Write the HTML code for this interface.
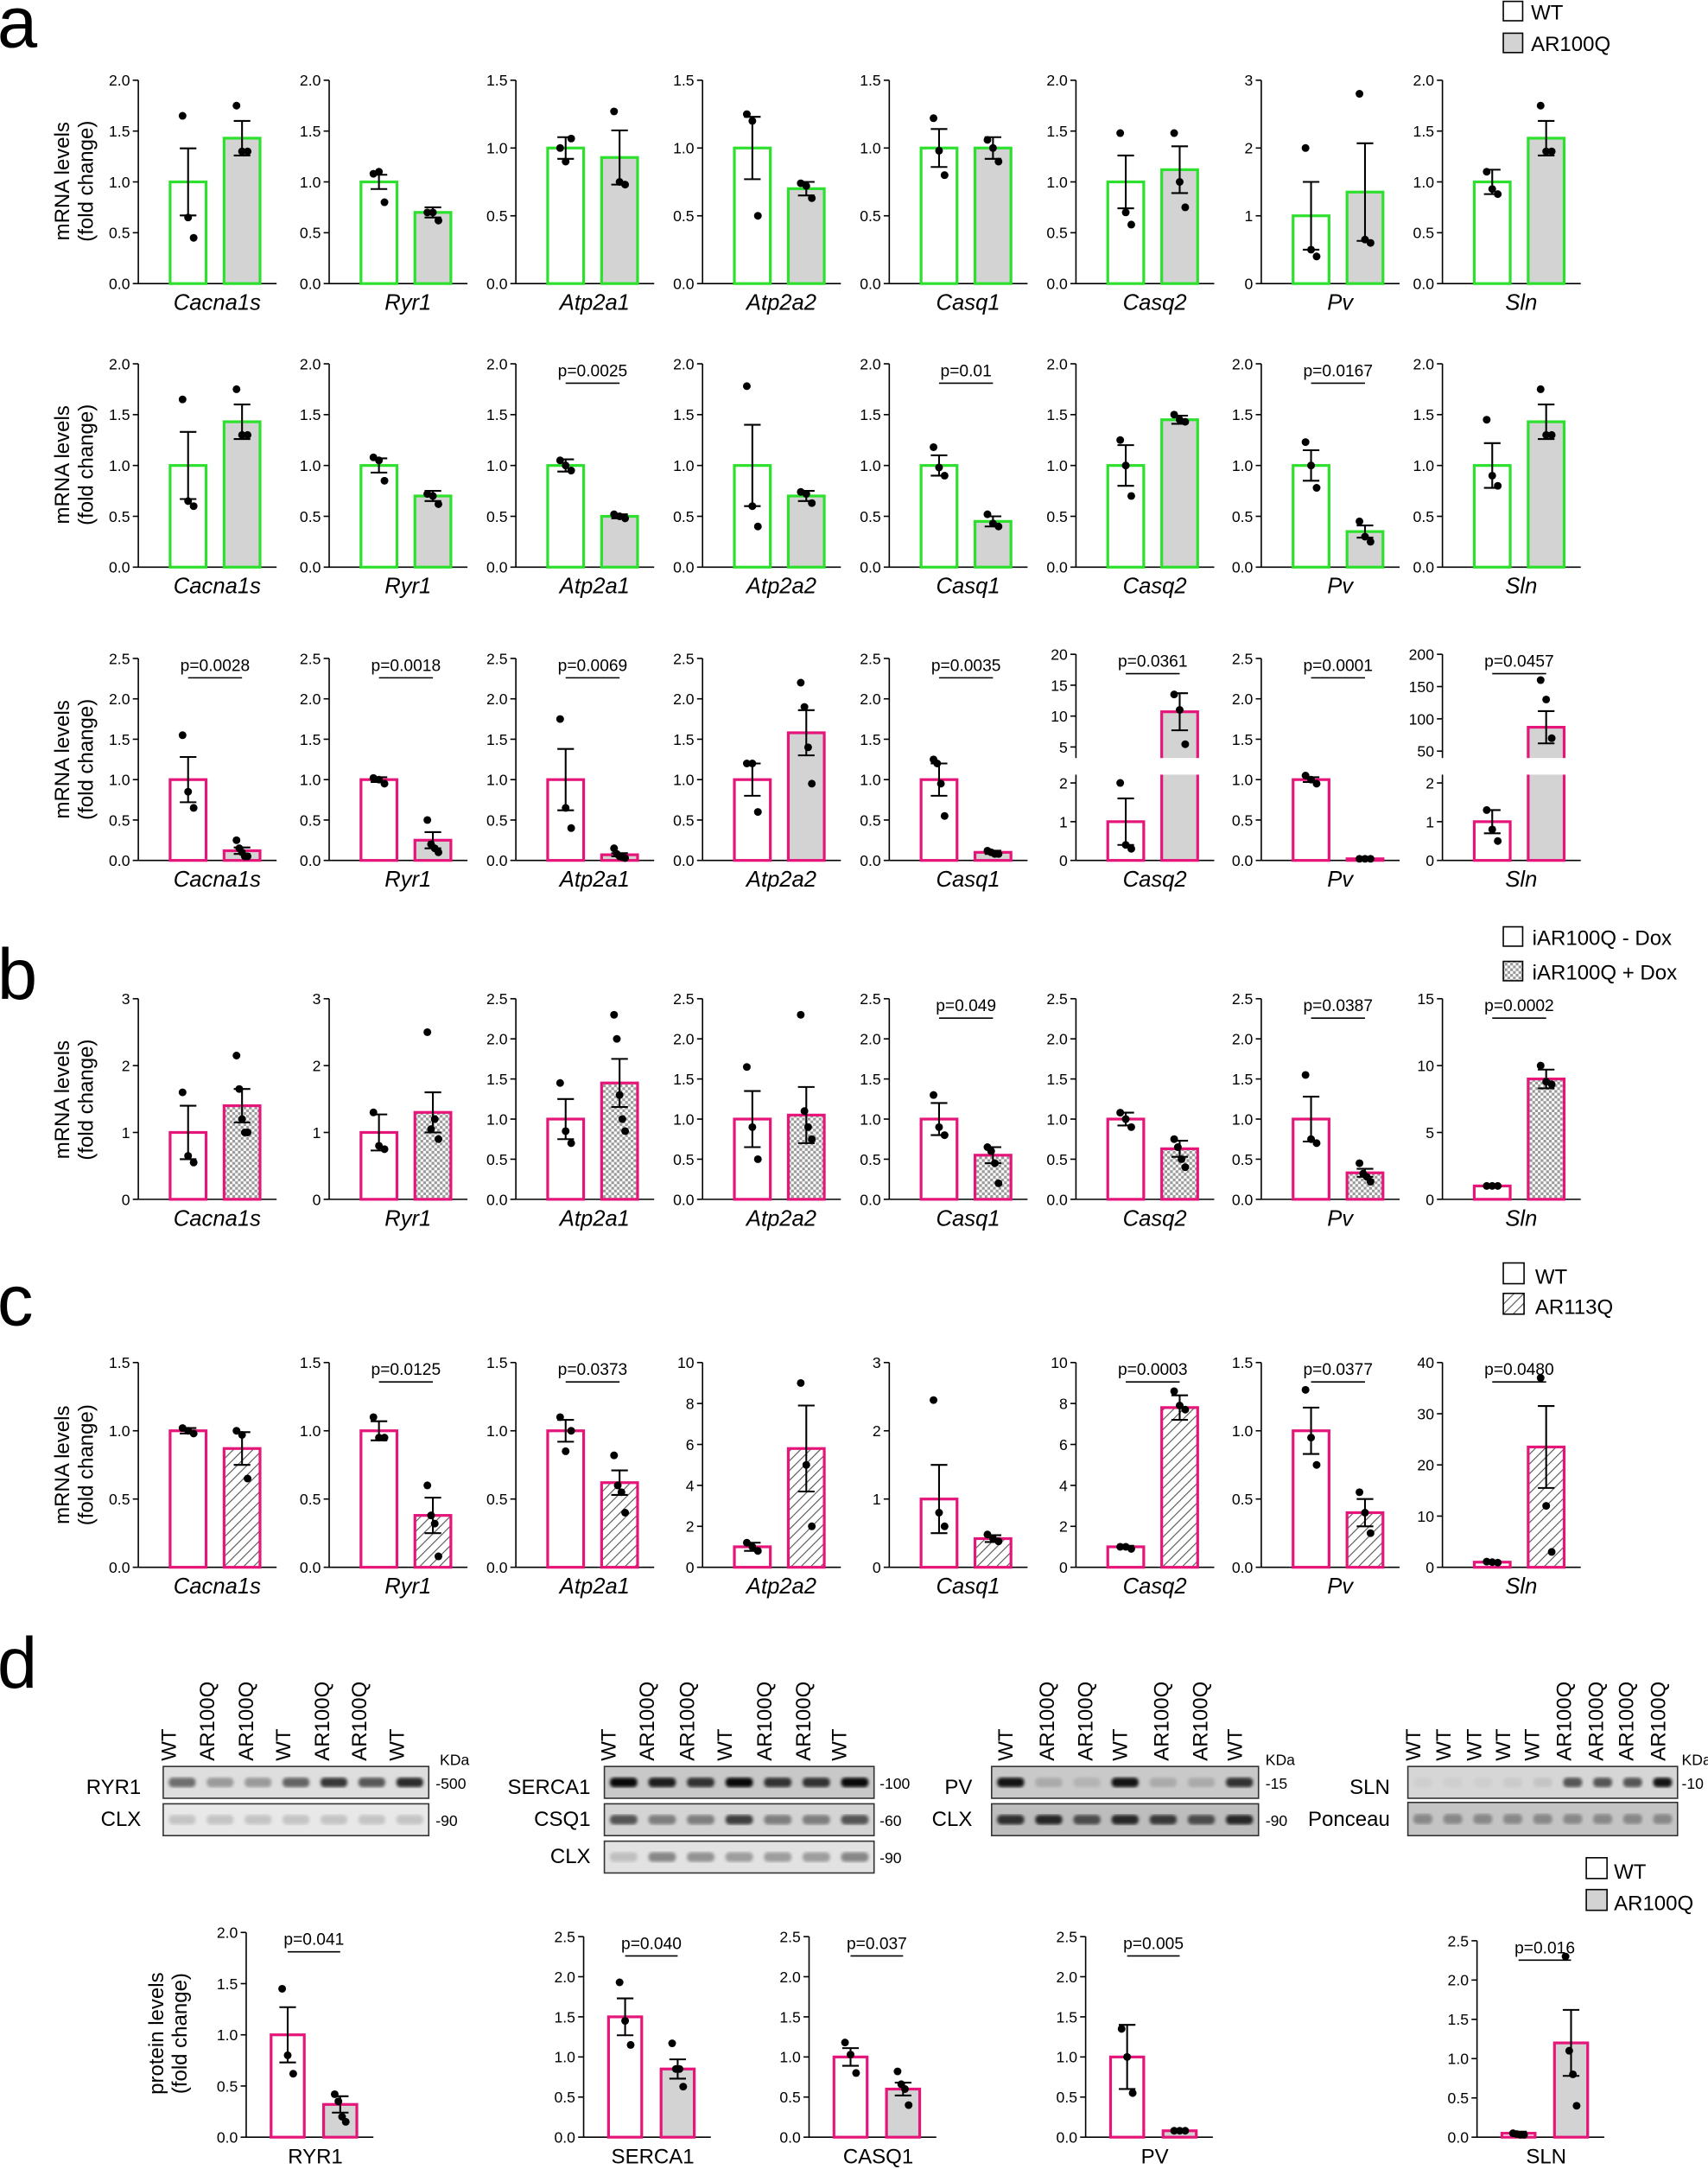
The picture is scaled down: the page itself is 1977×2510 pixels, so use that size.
<!DOCTYPE html>
<html><head><meta charset="utf-8">
<style>
html,body{margin:0;padding:0;background:#fff;}
svg{display:block;font-family:"Liberation Sans",Arial,sans-serif;}
</style></head>
<body>
<svg id="s" width="1977" height="2510" viewBox="0 0 1235 1568" xmlns="http://www.w3.org/2000/svg">
<defs>
<pattern id="chk" width="4" height="4" patternUnits="userSpaceOnUse"><rect width="4" height="4" fill="#fff"/><rect width="2" height="2" fill="#999"/><rect x="2" y="2" width="2" height="2" fill="#999"/></pattern>
<pattern id="hat" width="5" height="5" patternUnits="userSpaceOnUse" patternTransform="rotate(45)"><rect width="5" height="5" fill="#fff"/><line x1="0" y1="0" x2="0" y2="5" stroke="#555" stroke-width="1.4"/></pattern>
<filter id="bl"><feGaussianBlur stdDeviation="1.2"/></filter>
</defs>
<g font-size="52" font-weight="normal">
<text x="-2" y="34">a</text><text x="-2" y="722">b</text><text x="-2" y="958">c</text><text x="-2" y="1220">d</text>
</g>
<g font-size="15">
<rect x="1087" y="1" width="14" height="14" fill="#fff" stroke="#000"/><text x="1107" y="14">WT</text>
<rect x="1087" y="24" width="14" height="14" fill="#d3d3d3" stroke="#000"/><text x="1107" y="37">AR100Q</text>
<rect x="1087" y="670" width="14" height="14" fill="#fff" stroke="#000"/><text x="1108" y="683">iAR100Q - Dox</text>
<rect x="1087" y="695" width="14" height="14" fill="url(#chk)" stroke="#000"/><text x="1108" y="708">iAR100Q + Dox</text>
<rect x="1087" y="913" width="15" height="15" fill="#fff" stroke="#000"/><text x="1110" y="928">WT</text>
<rect x="1087" y="935" width="15" height="15" fill="url(#hat)" stroke="#000"/><text x="1110" y="950">AR113Q</text>
<rect x="1147" y="1343" width="15" height="15" fill="#fff" stroke="#000"/><text x="1167" y="1358">WT</text>
<rect x="1147" y="1366" width="15" height="15" fill="#d3d3d3" stroke="#000"/><text x="1167" y="1381">AR100Q</text>
</g>
<g id="g"></g>
</svg>
<script>
const NS="http://www.w3.org/2000/svg",G=document.getElementById('g');
function el(t,a,txt){const e=document.createElementNS(NS,t);for(const k in a)e.setAttribute(k,a[k]);if(txt!==undefined)e.textContent=txt;G.appendChild(e);return e;}
function ln(x1,y1,x2,y2,w,c){el('line',{x1,y1,x2,y2,stroke:c||'#000','stroke-width':w||1});}
function tl(max){let s=max<=2.5?0.5:max==3?1:max==10?2:max==15?5:max==40?10:max/4;const r=[];for(let v=0;v<=max+1e-9;v+=s)r.push(+v.toFixed(2));return r;}
const GR='#2ee02e',MG='#e5157a';
function panel(x,top,zero,max,bars,col,gene,pv,o){o=o||{};
 const map=o.map||(v=>zero-(v/max)*(zero-top));
 const ticks=o.ticks||tl(max);const dec=o.dec!==undefined?o.dec:(max<=2.5?1:0);
 const off=o.off||[23,62],bw=o.bw||26;
 ln(x,o.atop||top,x,zero);
 ticks.forEach(t=>{const y=map(t);ln(x-4,y,x,y);el('text',{x:x-6,y:y+4,'text-anchor':'end','font-size':11},t.toFixed(dec));});
 ln(x,zero,x+(o.bl||100),zero);
 bars.forEach((b,i)=>{el('rect',{x:x+off[i],y:map(b[0]),width:bw,height:zero-map(b[0]),fill:b[3]||'#fff',stroke:col,'stroke-width':2});});
 if(o.brk){el('rect',{x:x-6,y:o.brk[0],width:106,height:o.brk[1]-o.brk[0],fill:'#fff'});}
 bars.forEach((b,i)=>{const cx=x+off[i]+bw/2;const lo=map(Math.max(0,b[0]-b[1])),hi=map(b[0]+b[1]);
  if(b[1]>0){ln(cx,lo,cx,hi,1.3);ln(cx-6,hi,cx+6,hi,1.3);ln(cx-6,lo,cx+6,lo,1.3);}
  const n=b[2].length;b[2].forEach((p,j)=>{const dx=n==1?0:-4+8*j/(n-1);el('circle',{cx:cx+dx,cy:map(p),r:2.8,fill:'#000'});});});
 if(pv){const c1=x+off[0]+bw/2,c2=x+off[1]+bw/2;ln(c1,top+14,c2,top+14,1);el('text',{x:(c1+c2)/2,y:top+9,'text-anchor':'middle','font-size':12},pv);}
 el('text',{x:x+(o.gx||57),y:zero+19,'text-anchor':'middle','font-size':o.gs||16,'font-style':o.up?'normal':'italic'},gene);
}
function ylab(cx,cy,a,b){el('text',{x:cx,y:cy,transform:`rotate(-90 ${cx} ${cy})`,'text-anchor':'middle','font-size':15},a);el('text',{x:cx+17,y:cy,transform:`rotate(-90 ${cx+17} ${cy})`,'text-anchor':'middle','font-size':15},b);}
const X=[100,238,373,508,643,778,912,1043],GY='#d3d3d3';
let T=58,Z=205;
const a1=[[2,[[1,.33,[1.65,.65,.45]],[1.43,.17,[1.75,1.3,1.3],GY]],'Cacna1s'],
[2,[[1,.07,[1.08,1.1,.8]],[.7,.05,[.7,.7,.62],GY]],'Ryr1'],
[1.5,[[1,.08,[1,.9,1.07]],[.93,.2,[1.27,.75,.73],GY]],'Atp2a1'],
[1.5,[[1,.23,[1.25,1.2,.5]],[.7,.05,[.74,.72,.63],GY]],'Atp2a2'],
[1.5,[[1,.14,[1.22,.98,.8]],[1,.08,[1.06,1,.9],GY]],'Casq1'],
[2,[[1,.26,[1.48,.7,.58]],[1.12,.23,[1.48,1,.75],GY]],'Casq2'],
[3,[[1,.5,[2,.5,.4]],[1.35,.72,[2.8,.65,.6],GY]],'Pv'],
[2,[[1,.12,[1.1,.93,.88]],[1.43,.17,[1.75,1.3,1.3],GY]],'Sln']];
a1.forEach((d,i)=>panel(X[i],T,Z,d[0],d[1],GR,d[2]));
ylab(50,131,'mRNA levels','(fold change)');
T=263;Z=410;
const a2=[[2,[[1,.33,[1.65,.65,.6]],[1.43,.17,[1.75,1.3,1.3],GY]],'Cacna1s'],
[2,[[1,.07,[1.08,1.05,.85]],[.7,.05,[.72,.7,.62],GY]],'Ryr1'],
[2,[[1,.06,[1.05,1,.95]],[.5,.02,[.52,.5,.48],GY]],'Atp2a1','p=0.0025'],
[2,[[1,.4,[1.78,.6,.4]],[.7,.05,[.74,.72,.63],GY]],'Atp2a2'],
[2,[[1,.1,[1.18,.98,.9]],[.45,.05,[.52,.43,.4],GY]],'Casq1','p=0.01'],
[2,[[1,.2,[1.25,1,.7]],[1.45,.04,[1.5,1.45,1.43],GY]],'Casq2'],
[2,[[1,.15,[1.23,1,.78]],[.35,.06,[.45,.3,.25],GY]],'Pv','p=0.0167'],
[2,[[1,.22,[1.45,.9,.8]],[1.43,.17,[1.75,1.3,1.3],GY]],'Sln']];
a2.forEach((d,i)=>panel(X[i],T,Z,d[0],d[1],GR,d[2],d[3]));
ylab(50,336,'mRNA levels','(fold change)');
T=476;Z=622;
const a3=[[2.5,[[1,.28,[1.55,.85,.65]],[.12,.04,[.25,.15,.1,.05,.05],GY]],'Cacna1s','p=0.0028'],
[2.5,[[1,.03,[1.02,1,.95]],[.25,.1,[.5,.2,.15,.1],GY]],'Ryr1','p=0.0018'],
[2.5,[[1,.38,[1.75,.65,.4]],[.07,.02,[.15,.08,.05,.04,.03],GY]],'Atp2a1','p=0.0069'],
[2.5,[[1,.2,[1.2,1.2,.6]],[1.58,.28,[2.2,1.9,1.4,.95],GY]],'Atp2a2'],
[2.5,[[1,.2,[1.25,1.2,.95,.55]],[.1,.02,[.12,.1,.08,.08],GY]],'Casq1','p=0.0035']];
a3.forEach((d,i)=>panel(X[i],T,Z,d[0],d[1],MG,d[2],d[3]));
panel(X[5],473,Z,20,[[1,.6,[2,.4,.3]],[10.7,3,[13.5,11,3],GY]],MG,'Casq2','p=0.0361',{
 map:v=>v<=3.5?622-v*28:540-(v-5)*67/15,ticks:[0,1,2,5,10,15,20],dec:0,brk:[548,560]});
panel(X[6],T,Z,2.5,[[1,.03,[1.05,1,.95]],[.02,.005,[.02,.02,.02],GY]],MG,'Pv','p=0.0001');
panel(X[7],473,Z,200,[[1,.3,[1.3,.8,.5]],[87,25,[160,130,70],GY]],MG,'Sln','p=0.0457',{
 map:v=>v<=3.5?622-v*28:543-(v-50)*70/150,ticks:[0,1,2,50,100,150,200],dec:0,brk:[548,560]});
ylab(50,549,'mRNA levels','(fold change)');
T=722;Z=867;const CK='url(#chk)';
const b=[[3,[[1,.4,[1.6,.65,.55]],[1.4,.25,[2.15,1.65,1.2,1,1],CK]],'Cacna1s'],
[3,[[1,.27,[1.3,.8,.75]],[1.3,.3,[2.5,1.05,1.2,.9],CK]],'Ryr1'],
[2.5,[[1,.25,[1.45,.85,.7]],[1.45,.3,[2.3,2,1.3,1,.85],CK]],'Atp2a1'],
[2.5,[[1,.35,[1.65,.9,.5]],[1.05,.35,[2.3,1.1,.9,.75],CK]],'Atp2a2'],
[2.5,[[1,.2,[1.3,.9,.8]],[.55,.1,[.65,.6,.45,.2],CK]],'Casq1','p=0.049'],
[2.5,[[1,.08,[1.08,1,.9]],[.63,.1,[.75,.65,.5,.4],CK]],'Casq2'],
[2.5,[[1,.28,[1.55,.75,.7]],[.33,.05,[.45,.32,.28,.22],CK]],'Pv','p=0.0387'],
[15,[[1,.05,[1,1,1]],[9,.7,[10,8.8,8.6],CK]],'Sln','p=0.0002']];
b.forEach((d,i)=>panel(X[i],T,Z,d[0],d[1],MG,d[2],d[3]));
ylab(50,795,'mRNA levels','(fold change)');
T=985;Z=1133;const HT='url(#hat)';
const c=[[1.5,[[1,.02,[1.02,1,.98]],[.87,.12,[1,.97,.65],HT]],'Cacna1s'],
[1.5,[[1,.07,[1.1,.95,.95]],[.38,.13,[.6,.38,.32,.08],HT]],'Ryr1','p=0.0125'],
[1.5,[[1,.08,[1.1,.85,1]],[.62,.09,[.82,.6,.55,.4],HT]],'Atp2a1','p=0.0373'],
[10,[[1,.2,[1.2,1,.8]],[5.8,2.1,[9,5,2],HT]],'Atp2a2'],
[3,[[1,.5,[2.45,.8,.6]],[.42,.05,[.48,.42,.38],HT]],'Casq1'],
[10,[[1,.05,[1,1,.9]],[7.8,.6,[8.6,7.9,7.7],HT]],'Casq2','p=0.0003'],
[1.5,[[1,.17,[1.3,.95,.75]],[.4,.1,[.55,.4,.25],HT]],'Pv','p=0.0377'],
[40,[[1,.1,[1.1,1,.9]],[23.5,8,[37,12,3],HT]],'Sln','p=0.0480']];
c.forEach((d,i)=>panel(X[i],T,Z,d[0],d[1],MG,d[2],d[3]));
ylab(50,1059,'mRNA levels','(fold change)');
const po={off:[18,56],bw:24,up:1,gs:15,gx:50,bl:92};
Z=1545;
panel(178,1397,Z,2,[[1,.27,[1.45,.8,.62]],[.32,.08,[.42,.35,.2,.15],GY]],MG,'RYR1','p=0.041',po);
panel(422,1400,Z,2.5,[[1.5,.23,[1.93,1.45,1.15]],[.85,.12,[1.17,.85,.85,.63],GY]],MG,'SERCA1','p=0.040',po);
panel(585,1400,Z,2.5,[[1,.11,[1.18,1.03,.8]],[.6,.08,[.82,.66,.6,.4],GY]],MG,'CASQ1','p=0.037',po);
panel(785,1400,Z,2.5,[[1,.4,[1.35,1,.55]],[.08,.01,[.08,.08,.08],GY]],MG,'PV','p=0.005',po);
panel(1068,1403,Z,2.5,[[.05,.02,[.05,.04,.03,.03]],[1.2,.42,[2.3,1.1,.8,.4],GY]],MG,'SLN','p=0.016',po);
ylab(118,1470,'protein levels','(fold change)');
function lanes(xs,labs){xs.forEach((x,i)=>el('text',{x:x+5,y:1273,transform:`rotate(-90 ${x+5} 1273)`,'font-size':15},labs[i]));}
function blot(x0,x1,y,h,ints,bg){el('rect',{x:x0,y,width:x1-x0,height:h,fill:bg,stroke:'#333','stroke-width':1});
 const n=ints.length,w=(x1-x0)/n;ints.forEach((v,i)=>el('rect',{x:x0+i*w+4,y:y+h*0.35,width:w-8,height:h*0.3,rx:3,fill:'#000',opacity:v,filter:'url(#bl)'}));}
function lab(x,y,t,a){el('text',{x,y,'text-anchor':a||'end','font-size':15},t);}
function sm(x,y,t){el('text',{x,y,'font-size':11},t);}
const L7=['WT','AR100Q','AR100Q','WT','AR100Q','AR100Q','WT'];
lanes([122,150,178,205,233,260,287],L7);
blot(118,310,1277,23,[.5,.3,.3,.55,.75,.6,.8],'#dedede');blot(118,310,1304,23,[.15,.15,.15,.15,.15,.15,.15],'#e8e8e8');
lab(102,1297,'RYR1');lab(102,1320,'CLX');sm(318,1276,'KDa');sm(315,1293,'-500');sm(315,1320,'-90');
lanes([440,468,497,524,553,581,607],L7);
blot(437,632,1277,23,[.95,.85,.75,.95,.75,.75,.95],'#c8c8c8');blot(437,632,1304,23,[.6,.4,.4,.7,.4,.4,.6],'#d4d4d4');blot(437,632,1331,23,[.15,.4,.35,.3,.3,.3,.4],'#e2e2e2');
lab(427,1297,'SERCA1');lab(427,1320,'CSQ1');lab(427,1347,'CLX');sm(636,1293,'-100');sm(636,1320,'-60');sm(636,1347,'-90');
lanes([727,757,785,810,840,868,893],L7);
blot(717,910,1277,23,[.9,.15,.1,.9,.15,.15,.75],'#c9c9c9');blot(717,910,1304,23,[.75,.8,.6,.8,.7,.6,.8],'#bdbdbd');
lab(703,1297,'PV');lab(703,1320,'CLX');sm(915,1276,'KDa');sm(915,1293,'-15');sm(915,1320,'-90');
lanes([1022,1044,1066,1087,1108,1131,1154,1176,1199],['WT','WT','WT','WT','WT','AR100Q','AR100Q','AR100Q','AR100Q']);
blot(1018,1213,1277,23,[.03,.03,.03,.05,.08,.6,.6,.6,.9],'#d6d6d6');blot(1018,1213,1303,24,[.3,.3,.3,.3,.3,.3,.3,.3,.3],'#c4c4c4');
lab(1005,1297,'SLN');lab(1005,1320,'Ponceau');sm(1216,1276,'KDa');sm(1216,1293,'-10');
</script>
</body></html>
